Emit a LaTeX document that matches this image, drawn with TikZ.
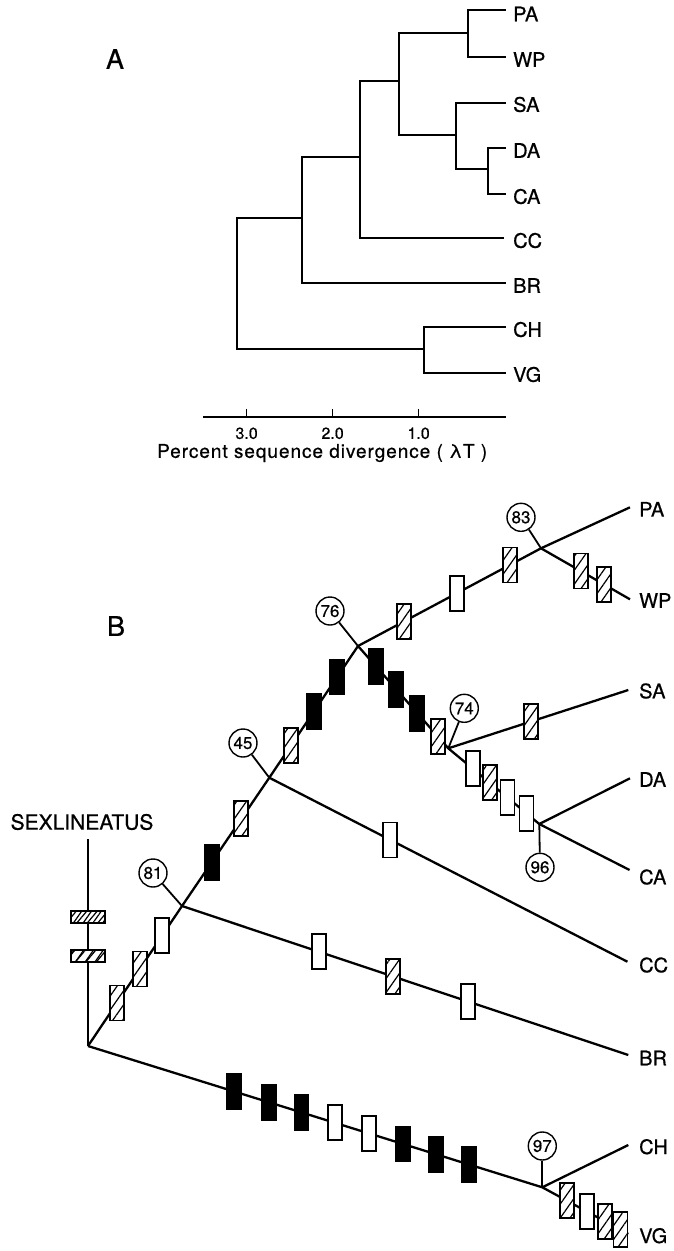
\documentclass[tikz,border=0pt]{standalone}
\usepackage{fontspec}
\setmainfont{TeX Gyre Heros}[FakeBold=0.6]
\usepackage{tikz}
\usetikzlibrary{
  positioning,
  patterns.meta
}
\newcommand\taxonfont{\fontsize{20}{20}\selectfont}
\newcommand\panelfont{\fontsize{27}{27}\selectfont}
\tikzset{
  treeline/.style={line width=1.7pt},
  branch/.style={line width=2.3pt},
  stem/.style={line width=1.8pt},
  taxon/.style={font=\taxonfont, anchor=west, inner sep=0pt},
  panel/.style={font=\panelfont, inner sep=0pt},
  ticklab/.style={font=\fontsize{16}{16}\selectfont, inner sep=0pt},
  axislab/.style={font=\fontsize{19}{19}\selectfont\addfontfeature{LetterSpace=5}, anchor=west, inner sep=0pt},
  boot/.style={draw, circle, fill=white, line width=1.4pt, minimum size=28pt,
    inner sep=0pt, font=\fontsize{17}{17}\selectfont},
  bar/.style={draw, line width=1.8pt, minimum width=14pt, minimum height=35pt, inner sep=0pt},
  openbar/.style={bar, fill=white},
  solidbar/.style={bar, fill=black},
  hatchbar/.style={bar, fill=white,
    postaction={pattern={Lines[angle=55, distance=8pt, line width=1.2pt]}}},
  flatbar/.style={hatchbar, minimum width=34pt, minimum height=12pt,
    postaction={pattern={Lines[angle=50, distance=8pt, line width=1.2pt]}}}
}
\begin{document}
\begin{tikzpicture}[x=1pt, y=-1pt]
  \useasboundingbox (0,0) rectangle (674,1251);

  % A: distance tree
  \node[panel] (labA) at (115,59) {A};
  \coordinate (tPA) at (506,10);
  \coordinate (tWP) at (506,57.3);
  \coordinate (tSA) at (506,102.7);
  \coordinate (tDA) at (506,148.3);
  \coordinate (tCA) at (506,194.3);
  \coordinate (tCC) at (504,238.3);
  \coordinate (tBR) at (506,283.3);
  \coordinate (tCH) at (506,327.3);
  \coordinate (tVG) at (506,372.7);
  \coordinate (nPW) at (467.7,32.7);
  \coordinate (nDC) at (488.3,169);
  \coordinate (nSDC) at (456,134.7);
  \coordinate (nPS) at (399.3,80.7);
  \coordinate (nCC) at (360,156.7);
  \coordinate (nBR) at (301.7,217.7);
  \coordinate (nCV) at (424.3,349.3);
  \coordinate (nRoot) at (236.7,217.7);
  \draw[treeline] (tPA) -| (nPW) |- (tWP);
  \draw[treeline] (tDA) -| (nDC) |- (tCA);
  \draw[treeline] (tSA) -| (nSDC) |- (nDC);
  \draw[treeline] (nPW) -| (nPS) |- (nSDC);
  \draw[treeline] (nPS) -| (nCC) |- (tCC);
  \draw[treeline] (nCC) -| (nBR) |- (tBR);
  \draw[treeline] (tCH) -| (nCV) |- (tVG);
  \draw[treeline] (nBR) -| (nRoot) |- (nCV);
  \foreach \t/\y in {PA/14,WP/59.5,SA/104.5,DA/150.5,CA/196.5,CC/240.5,BR/285.5,CH/329.5,VG/374.5}
    \node[taxon] (a\t) at (513,\y) {\t};

  % scale
  \coordinate (axL) at (203.3,417.3);
  \coordinate (axR) at (506,417.3);
  \draw[treeline] (axL) -- (axR);
  \foreach \v in {3,2,1} {
    \coordinate (tk\v) at ({504.6-86*\v},417.3);
    \draw[treeline] (tk\v) -- ++(0,-8);
    \node[ticklab] (tl\v) at ({504.6-86*\v},433.3) {\v.0};
  }
  \node[axislab] (axtitle) at (157,453) {Percent sequence divergence ( λT )};

  % B: character tree
  \node[panel] (labB) at (116,626) {B};
  \node[font=\fontsize{21}{21}\selectfont, inner sep=0pt] (sex) at (82,822) {SEXLINEATUS};
  \coordinate (sexTop) at (88,839);
  \coordinate (root) at (88,1046);
  \coordinate (j81) at (182,906);
  \coordinate (j45) at (269.3,777.7);
  \coordinate (j76) at (358,646);
  \coordinate (j83) at (541,548.3);
  \coordinate (j74) at (448.3,748.3);
  \coordinate (j96) at (539.3,824);
  \coordinate (j97) at (542.3,1187.3);
  \coordinate (ePA) at (630,507.3);
  \coordinate (eWP) at (630,599.3);
  \coordinate (eSA) at (628.3,690);
  \coordinate (eDA) at (630,778.3);
  \coordinate (eCA) at (629.6,870);
  \coordinate (eCC) at (627.4,961.7);
  \coordinate (eBR) at (628.3,1055);
  \coordinate (eCH) at (628.3,1145);
  \coordinate (eVG) at (628.3,1234);

  \draw[branch] (sexTop) -- (root);
  \draw[branch] (root) -- (j81) -- (j45) -- (j76) -- (j83) -- (ePA);
  \draw[branch] (j83) -- (eWP);
  \draw[branch] (j76) -- (j74) -- (j96) -- (eCA);
  \draw[branch] (j74) -- (eSA);
  \draw[branch] (j96) -- (eDA);
  \draw[branch] (j45) -- (eCC);
  \draw[branch] (j81) -- (eBR);
  \draw[branch] (root) -- (j97) -- (eVG);
  \draw[branch] (j97) -- (eCH);

  \foreach \p [count=\i] in {0.375,0.567}
    \path (sexTop) -- (root) node[flatbar, pos=\p] (sx\i) {};
  \foreach \p/\s [count=\i] in {0.307/hatchbar,0.55/hatchbar,0.79/openbar}
    \path (root) -- (j81) node[\s, pos=\p] (ra\i) {};
  \foreach \p/\s [count=\i] in {0.34/solidbar,0.68/hatchbar}
    \path (j81) -- (j45) node[\s, pos=\p] (rb\i) {};
  \foreach \p/\s [count=\i] in {0.245/hatchbar,0.505/solidbar,0.765/solidbar}
    \path (j45) -- (j76) node[\s, pos=\p] (rc\i) {};
  \foreach \p/\s [count=\i] in {0.25/hatchbar,0.54/openbar,0.83/hatchbar}
    \path (j76) -- (j83) node[\s, pos=\p] (pa\i) {};
  \foreach \p [count=\i] in {0.445,0.71}
    \path (j83) -- (eWP) node[hatchbar, pos=\p] (wp\i) {};
  \foreach \p/\s [count=\i] in {0.2/solidbar,0.425/solidbar,0.657/solidbar,0.886/hatchbar}
    \path (j76) -- (j74) node[\s, pos=\p] (sd\i) {};
  \path (j74) -- (eSA) node[hatchbar, pos=0.46] (sa1) {};
  \foreach \p/\s [count=\i] in {0.27/openbar,0.455/hatchbar,0.65/openbar,0.86/openbar}
    \path (j74) -- (j96) node[\s, pos=\p] (dc\i) {};
  \path (j45) -- (eCC) node[openbar, pos=0.338] (cc1) {};
  \foreach \p/\s [count=\i] in {0.307/openbar,0.473/hatchbar,0.64/openbar}
    \path (j81) -- (eBR) node[\s, pos=\p] (br\i) {};
  \foreach \p/\s [count=\i] in {0.322/solidbar,0.398/solidbar,0.47/solidbar,0.544/openbar,
      0.618/openbar,0.693/solidbar,0.766/solidbar,0.839/solidbar}
    \path (root) -- (j97) node[\s, pos=\p] (cv\i) {};
  \foreach \p/\s [count=\i] in {0.285/hatchbar,0.52/openbar,0.73/hatchbar,0.91/hatchbar}
    \path (j97) -- (eVG) node[\s, pos=\p] (vg\i) {};

  \node[boot] (bs83) at (521,517.3) {83};
  \node[boot] (bs76) at (330,611) {76};
  \node[boot] (bs74) at (464.3,708.3) {74};
  \node[boot] (bs45) at (243,743) {45};
  \node[boot] (bs81) at (153,873) {81};
  \node[boot] (bs96) at (540,867.3) {96};
  \node[boot] (bs97) at (542.3,1146) {97};
  \foreach \n in {83,76,74,45,81,96,97}
    \draw[stem] (bs\n) -- (j\n);

  \foreach \t/\y in {PA/509.3,WP/600.5,SA/691,DA/779.5,CA/877,CC/965,BR/1058,CH/1146.7,VG/1235.7}
    \node[taxon] (b\t) at (639,\y) {\t};
\end{tikzpicture}
\end{document}
